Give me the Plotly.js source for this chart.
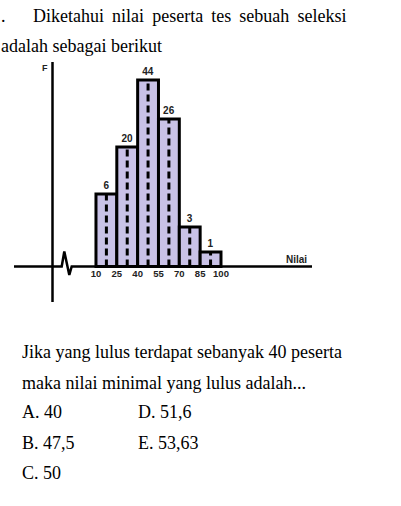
<!DOCTYPE html>
<html>
<head>
<meta charset="utf-8">
<script src="https://cdn.plot.ly/plotly-3.0.1.min.js"></script>
<style>
  html, body { margin: 0; padding: 0; background: #fff; }
  #chart { width: 401px; height: 506px; }
</style>
</head>
<body>
<div id="chart"></div>
<script>
// ---- data ----
const classLower = [10, 25, 40, 55, 70, 85];
const classUpper = [25, 40, 55, 70, 85, 100];
const classMid = [17.5, 32.5, 47.5, 62.5, 77.5, 92.5];
const frequencies = [6, 20, 44, 26, 3, 1];
// heights as drawn in the (not-to-scale) picture, in F units where the tallest bar = 44
const drawnHeights = [17.1, 28.2, 44, 34.8, 9.3, 3.4];
const tickValues = [10, 25, 40, 55, 70, 85, 100];
const tickLabels = ["10", "25", "40", "55", "70", "85", "100"];
const xAxisTitle = "Nilai";
const yAxisTitle = "F";
const questionLines = [
  "Diketahui nilai peserta tes sebuah seleksi",
  "adalah sebagai berikut"
];
const promptLines = [
  "Jika yang lulus terdapat sebanyak 40 peserta",
  "maka nilai minimal yang lulus adalah..."
];
const options = ["A. 40", "B. 47,5", "C. 50", "D. 51,6", "E. 53,63"];

// ---- layout helpers ----
const W = 401, H = 506;
const px = v => v / W;
const py = v => 1 - v / H;

const serif = { family: "Liberation Serif, 'Times New Roman', serif", size: 18, color: "#000" };
const labelFont = { family: "Liberation Sans, Arial, sans-serif", size: 10, color: "#222", weight: "bold" };

const classWidths = classLower.map((l, i) => classUpper[i] - l);

const bars = {
  type: "bar",
  x: classMid,
  y: drawnHeights,
  width: classWidths,
  marker: { color: "#c9c2e7", line: { color: "#000", width: 3 } },
  text: frequencies.map(String),
  textposition: "outside",
  textfont: labelFont,
  cliponaxis: false,
  hoverinfo: "skip"
};

const dx = [], dy = [];
classMid.forEach((m, i) => { dx.push(m, m, null); dy.push(0, drawnHeights[i], null); });
const dashes = {
  type: "scatter", mode: "lines", x: dx, y: dy,
  line: { color: "#000", width: 3, dash: "7px,4px" },
  hoverinfo: "skip"
};

// justified first line: widen word gaps a little
const justified = questionLines[0].split(" ").join(" \u2009");

const ann = [];
const txt = (t, x, y) => ({ text: t, x: px(x), y: py(y), xref: "paper", yref: "paper", xanchor: "left", yanchor: "middle", showarrow: false, font: serif });
ann.push(txt(".", -1, 16));
ann.push(txt(justified, 31, 16));
ann.push(txt(questionLines[1], -1, 46));
promptLines.forEach((t, i) => ann.push(txt(t, 20, 352 + 31 * i)));
const optPos = [[20, 412], [20, 443], [20, 473], [136, 412], [136, 443]];
options.forEach((t, i) => ann.push(txt(t, optPos[i][0], optPos[i][1])));
ann.push({ text: xAxisTitle, x: px(296), y: py(259), xref: "paper", yref: "paper", xanchor: "center", yanchor: "middle", showarrow: false, font: labelFont });
ann.push({ text: yAxisTitle, x: px(45), y: py(68), xref: "paper", yref: "paper", xanchor: "center", yanchor: "middle", showarrow: false, font: Object.assign({}, labelFont, { size: 9 }) });

const base = 266.5;
const axisPath = `M${px(14)},${py(base)} L${px(61.7)},${py(base)} L${px(64.3)},${py(251.5)} L${px(69.3)},${py(275)} L${px(71.7)},${py(base)} L${px(312)},${py(base)}`;
const shapes = [
  { type: "path", xref: "paper", yref: "paper", path: axisPath, line: { color: "#000", width: 2.5 } },
  { type: "line", xref: "paper", yref: "paper", x0: px(52.5), x1: px(52.5), y0: py(62), y1: py(302), line: { color: "#000", width: 2.5 } }
];

const layout = {
  width: W, height: H,
  margin: { l: 0, r: 0, t: 0, b: 0, pad: 0 },
  paper_bgcolor: "#fff", plot_bgcolor: "rgba(0,0,0,0)",
  showlegend: false,
  bargap: 0,
  xaxis: {
    range: [-59.1, 229.6], anchor: "free", position: py(base),
    tickvals: tickValues, ticktext: tickLabels,
    tickfont: Object.assign({}, labelFont, { size: 9.5 }),
    ticks: "", showline: false, showgrid: false, zeroline: false,
    ticklabelstandoff: 0, fixedrange: true
  },
  yaxis: {
    range: [-56.5, 62.87], showticklabels: false, showgrid: false, zeroline: false,
    showline: false, ticks: "", fixedrange: true
  },
  shapes: shapes,
  annotations: ann
};

Plotly.newPlot("chart", [bars, dashes], layout, { staticPlot: true, displayModeBar: false });
</script>
</body>
</html>
